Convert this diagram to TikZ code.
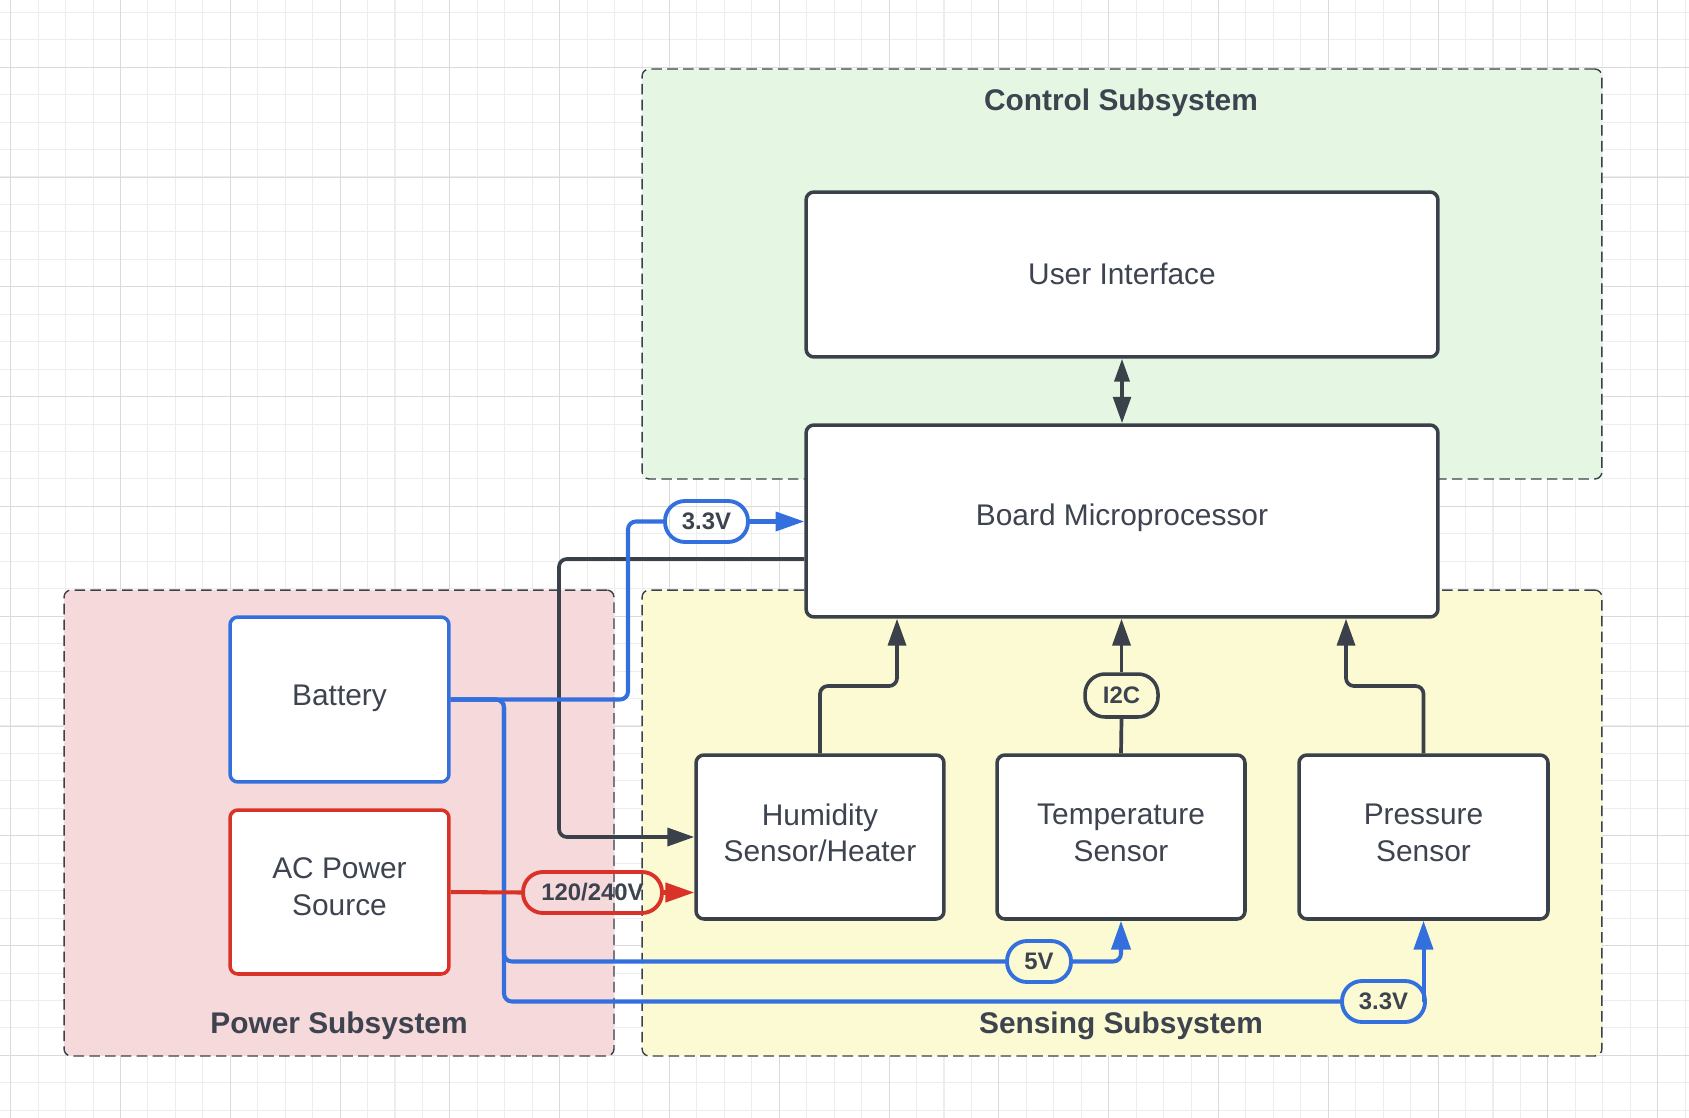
\documentclass[tikz,border=0pt]{standalone}
\usepackage{fontspec}
\setmainfont{Liberation Sans}
\usetikzlibrary{arrows.meta}
\definecolor{dk}{HTML}{3A414A}
\definecolor{txt}{HTML}{3D4450}
\definecolor{blu}{HTML}{3370DE}
\definecolor{rd}{HTML}{D93228}
\definecolor{grn}{HTML}{E5F6E3}
\definecolor{pnk}{HTML}{F6D9DA}
\definecolor{ylw}{HTML}{FCFAD2}
\definecolor{gmin}{HTML}{EDEDED}
\definecolor{gmaj}{HTML}{DADADA}
\begin{document}
\begin{tikzpicture}[x=0.02cm,y=-0.02cm,
  gridminor/.style={draw=gmin,line width=0.6pt},
  gridmajor/.style={draw=gmaj,line width=0.6pt},
  area/.style={draw=dk,line width=0.8pt,dash pattern=on 6pt off 3pt,rounded corners=4pt,inner sep=0pt},
  areatitle/.style={text=txt,font=\fontsize{17}{21}\selectfont\bfseries},
  blockbox/.style={draw=dk,fill=white,line width=2pt,rounded corners=4.5pt,inner sep=0pt},
  boxtext/.style={inner sep=0pt,align=center,text=txt,font=\fontsize{17}{20.8}\selectfont},
  pill/.style={line width=2.2pt,rounded corners=0.4cm,inner sep=0pt,minimum height=0.82cm,text=txt,font=\fontsize{13.6}{16}\selectfont\bfseries},
  dkline/.style={draw=dk,line width=2.1pt,rounded corners=4.5pt},
  bline/.style={draw=blu,line width=2.3pt,rounded corners=4.5pt},
  rline/.style={draw=rd,line width=2.3pt,rounded corners=4.5pt},
  dkarrow/.style={-{Triangle[width=10.2pt,length=15.3pt]}},
  colarrow/.style={-{Triangle[width=10.8pt,length=16.4pt]}}
]
\useasboundingbox (0,0) rectangle (1689,1118);
\fill[white] (0,0) rectangle (1689,1118);
% grid
\foreach \i in {0,...,61} \draw[gridminor] ({10.7+27.45*\i},0) -- ++(0,1118);
\foreach \j in {0,...,40} \draw[gridminor] (0,{12.3+27.45*\j}) -- ++(1689,0);
\foreach \i in {0,...,15} \draw[gridmajor] ({10.7+109.8*\i},0) -- ++(0,1118);
\foreach \j in {0,...,9} \draw[gridmajor] (0,{67.3+109.8*\j}) -- ++(1689,0);

% subsystem areas
\node[area,fill=grn,minimum width=19.2cm,minimum height=8.2cm] (ctl) at (1122,274) {};
\node[area,fill=pnk,minimum width=11.0cm,minimum height=9.32cm] (pwr) at (339,823) {};
\node[area,fill=ylw,minimum width=19.2cm,minimum height=9.32cm] (sns) at (1122,823) {};
\node[areatitle] (tctl) at (1121,102.5) {Control Subsystem};
\node[areatitle] (tpwr) at (339,1025.5) {Power Subsystem};
\node[areatitle] (tsns) at (1121,1025.5) {Sensing Subsystem};

% blocks
\node[blockbox,minimum width=12.64cm,minimum height=3.30cm] (ui) at (1122,274.5) {};
\node[blockbox,minimum width=12.64cm,minimum height=3.84cm] (board) at (1122,521) {};
\node[blockbox,draw=blu,minimum width=4.38cm,minimum height=3.30cm] (bat) at (339.5,699.5) {};
\node[blockbox,draw=rd,minimum width=4.38cm,minimum height=3.28cm] (ac) at (339.5,892) {};
\node[blockbox,minimum width=4.96cm,minimum height=3.28cm] (hum) at (820,837) {};
\node[blockbox,minimum width=4.96cm,minimum height=3.28cm] (temp) at (1121,837) {};
\node[blockbox,minimum width=4.98cm,minimum height=3.28cm] (pres) at (1423.5,837) {};

% block texts
\node[boxtext] (uit) at (1122,273.5) {User Interface};
\node[boxtext] (boardt) at (1122,517.5) {Board Microprocessor};
\node[boxtext] (batt) at (339.5,698.5) {Battery};
\node[boxtext] (act) at (339.5,886.5) {AC Power\\Source};
\node[boxtext] (humt) at (820,832.7) {Humidity\\Sensor/Heater};
\node[boxtext] (tempt) at (1121,832.7) {Temperature\\Sensor};
\node[boxtext] (prest) at (1423.5,832.7) {Pressure\\Sensor};

% pills
\node[pill,draw=blu,minimum width=1.66cm] (p33a) at (706.5,521.5) {3.3V};
\node[pill,draw=blu,minimum width=1.28cm] (p5) at (1039,961.5) {5V};
\node[pill,draw=dk,line width=2pt,minimum width=1.46cm,minimum height=0.86cm] (i2c) at (1121.5,695.5) {I2C};
\node[pill,draw=rd,minimum width=2.78cm] (pac) at (592.5,892.5) {120/240V};
\node[pill,draw=blu,minimum width=1.66cm] (p33b) at (1383.5,1001.5) {3.3V};

% routing coordinates
\coordinate (hx) at (897,686);
\coordinate (px) at (1346,686);
\coordinate (dk1) at (559,559);
\coordinate (bv) at (628,521.5);
\coordinate (bj1) at (504,961.5);
\coordinate (bj2) at (504,1001.5);

% control connectors
\draw[dkline,{Triangle[width=8.5pt,length=13pt]}-{Triangle[width=10pt,length=15pt]}] (ui.south) -- (board.north);
\draw[dkline,dkarrow] (hum.north) |- (hx) -- (board.south -| hx);
\draw[dkline] (temp.north) -- (i2c.south);
\draw[dkline,dkarrow] (i2c.north) -- (board.south -| i2c.north);
\draw[dkline,dkarrow] (pres.north) |- (px) -- (board.south -| px);
\draw[dkline,dkarrow] (board.west |- dk1) -- (dk1) |- (hum.west);

% power connectors
\draw[bline] (bat.east) -| (bj2) -- (p33b.west);
\draw[bline] (bat.east) -| (bj1) -- (p5.west);
\draw[bline] (bat.east) -| (bv) -- (p33a.west);
\draw[bline,colarrow] (p33a.east) -- (board.west |- p33a.east);
\draw[bline,colarrow] (p5.east) -| (temp.south);
\draw[bline,colarrow] (pres.south |- p33b.east) -- (pres.south);
\draw[rline] (ac.east) -- (pac.west);
\draw[rline,colarrow] (pac.east) -- (hum.west |- pac.east);
\end{tikzpicture}
\end{document}
